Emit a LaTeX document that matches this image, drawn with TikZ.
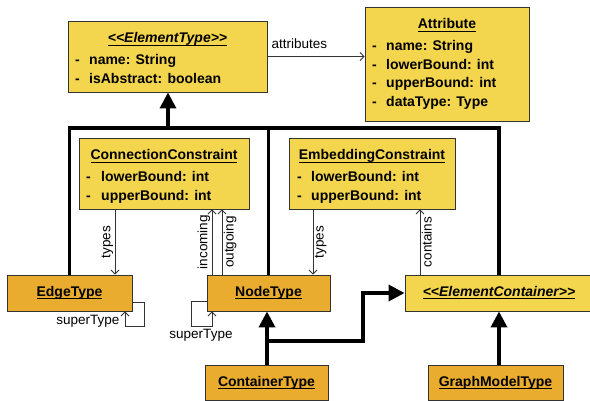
\documentclass[tikz,border=0pt]{standalone}
\usepackage{fontspec}
\setmainfont{Liberation Sans}
\usetikzlibrary{arrows.meta,calc}
\definecolor{ylw}{HTML}{F3D54E}
\definecolor{org}{HTML}{E9AC2E}
\definecolor{lnc}{HTML}{333333}
\newsavebox\myulbox
\newcommand\ulx[1]{\sbox\myulbox{#1}\rlap{\vrule height -1.6pt depth 2.6pt width \wd\myulbox}\usebox\myulbox}
\begin{document}
\begin{tikzpicture}[x=1pt,y=-1pt,
 box/.style={draw=lnc,line width=0.9pt,inner sep=0pt,rectangle},
 ybox/.style={box,fill=ylw},
 obox/.style={box,fill=org,font=\fontsize{14}{16}\selectfont\bfseries},
 ttl/.style={font=\fontsize{14}{16}\selectfont\bfseries,anchor=base,inner sep=0pt},
 row/.style={font=\fontsize{14}{16}\selectfont\bfseries,anchor=base west,inner sep=0pt},
 lbl/.style={font=\fontsize{13.5}{16}\selectfont,inner sep=1.5pt},
 conn/.style={draw=lnc,line width=0.8pt,-{Straight Barb[length=4pt,width=8pt]}},
 heavy/.style={line width=3.5pt,draw=black},
 inh/.style={heavy,-{Triangle[length=16pt,width=16pt]}}]
\useasboundingbox (0,0) rectangle (590,401);

% boxes
\node[ybox,minimum width=199pt,minimum height=71pt] (et) at (167.5,56.5) {};
\node[ybox,minimum width=164pt,minimum height=114pt] (attr) at (447,64) {};
\node[ybox,minimum width=170pt,minimum height=71pt] (cc) at (164,173.5) {};
\node[ybox,minimum width=166pt,minimum height=71pt] (emb) at (372,173.5) {};
\node[obox,minimum width=125pt,minimum height=36pt] (edge) at (69.5,293) {\ulx{EdgeType}};
\node[obox,minimum width=123pt,minimum height=36pt] (nt) at (268.5,293) {\ulx{NodeType}};
\node[ybox,font=\fontsize{14}{16}\selectfont\bfseries,minimum width=188pt,minimum height=36pt] (ec) at (499,293) {\ulx{\textit{<{}<ElementContainer>{}>}}};
\node[obox,minimum width=123pt,minimum height=35pt] (ct) at (266.5,382.5) {\ulx{ContainerType}};
\node[obox,minimum width=135pt,minimum height=35pt] (gm) at (495.5,382.5) {\ulx{GraphModelType}};

% ElementType texts
\node[ttl] (et-t) at (167.5,43) {\ulx{\textit{<{}<ElementType>{}>}}};
\node[row] (et-d1) at (75,65) {-};
\node[row] (et-r1) at (89,65) {name: String};
\node[row] (et-d2) at (75,84) {-};
\node[row] (et-r2) at (89,84) {isAbstract: boolean};

% Attribute texts
\node[ttl] (attr-t) at (447,29) {\ulx{Attribute}};
\node[row] (attr-d1) at (372,51) {-};
\node[row] (attr-r1) at (386,51) {name: String};
\node[row] (attr-d2) at (372,69.5) {-};
\node[row] (attr-r2) at (386,69.5) {lowerBound: int};
\node[row] (attr-d3) at (372,88) {-};
\node[row] (attr-r3) at (386,88) {upperBound: int};
\node[row] (attr-d4) at (372,106.5) {-};
\node[row] (attr-r4) at (386,106.5) {dataType: Type};

% ConnectionConstraint texts
\node[ttl] (cc-t) at (164,160) {\ulx{ConnectionConstraint}};
\node[row] (cc-d1) at (86,182) {-};
\node[row] (cc-r1) at (101,182) {lowerBound: int};
\node[row] (cc-d2) at (86,201) {-};
\node[row] (cc-r2) at (101,201) {upperBound: int};

% EmbeddingConstraint texts
\node[ttl] (emb-t) at (372,160) {\ulx{EmbeddingConstraint}};
\node[row] (emb-d1) at (297,182) {-};
\node[row] (emb-r1) at (311,182) {lowerBound: int};
\node[row] (emb-d2) at (297,201) {-};
\node[row] (emb-r2) at (311,201) {upperBound: int};

% thin connectors
\draw[conn] (et.east) -- (attr.west |- et.east);
\node[lbl,anchor=base west] (l-attr) at (270,49) {attributes};

\draw[conn] (115,0 |- cc.south) -- node[lbl,rotate=90,anchor=south] (l-t1) {types} (115,0 |- edge.north);
\draw[conn] (212,0 |- nt.north) -- node[lbl,rotate=90,anchor=south] (l-in) {incoming} (212,0 |- cc.south);
\draw[conn] (222,0 |- nt.north) -- node[lbl,rotate=90,anchor=north] (l-out) {outgoing} (222,0 |- cc.south);
\draw[conn] (313,0 |- emb.south) -- node[lbl,rotate=90,anchor=north] (l-t2) {types} (313,0 |- nt.north);
\draw[conn] (420,0 |- ec.north) -- node[lbl,rotate=90,anchor=north] (l-con) {contains} (420,0 |- emb.south);

\draw[conn] ($(edge.south east)+(0,-9)$) -- ++(12,0) -- ++(0,24) -| (125,0 |- edge.south);
\node[lbl,anchor=base east] (l-s1) at (121,325) {superType};
\draw[conn] ($(nt.south west)+(0,-10)$) -- ++(-15,0) -- ++(0,25) -| (212,0 |- nt.south);
\node[lbl,anchor=base] (l-s2) at (201,338) {superType};

% heavy inheritance lines
\coordinate (top) at (168,128);
\coordinate (br) at (267,341);
\draw[heavy] (edge.north) |- (top) -| (ec.north);
\draw[heavy] (nt.north) -- (nt.north |- top);
\draw[inh] (top) -- (top |- et.south);
\draw[inh] (ct.north -| br) -- (nt.south -| br);
\draw[inh] (br) -- (363,341) |- (ec.west);
\draw[inh] (gm.north -| ec.south) -- (ec.south);
\end{tikzpicture}
\end{document}
